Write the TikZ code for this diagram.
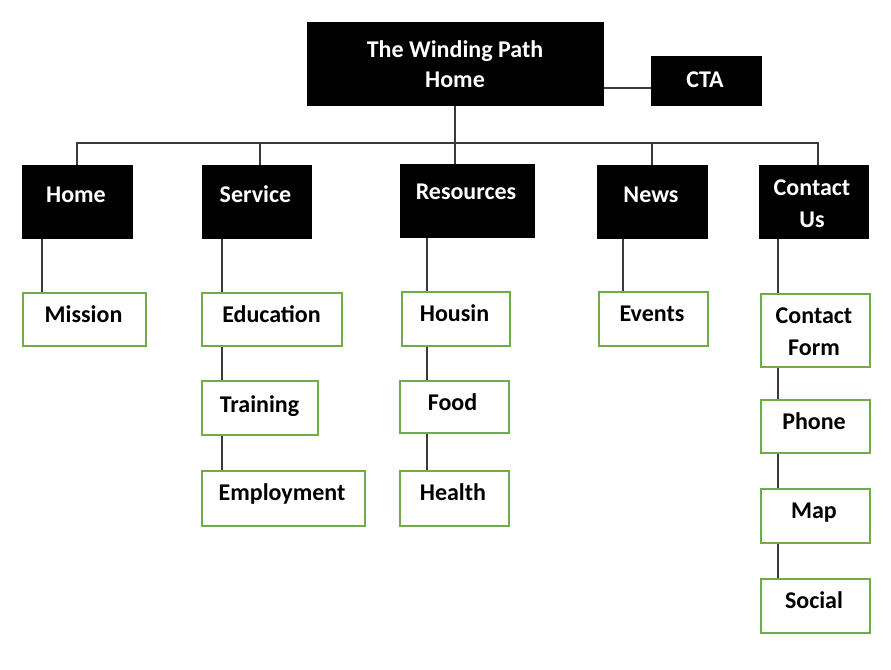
\documentclass[tikz,border=0pt]{standalone}
\usepackage{fontspec}
\setmainfont{Carlito}
\definecolor{leafgreen}{HTML}{70AD47}
\definecolor{linkgray}{HTML}{3A3A3A}
\begin{document}
\begin{tikzpicture}[x=1pt,y=-1pt,
  darkbox/.style={rectangle, draw=black, fill=black, line width=1pt, inner sep=0pt, minimum height=73pt},
  leafbox/.style={rectangle, draw=leafgreen, fill=white, line width=1.4pt, inner sep=0pt, minimum width=109pt, minimum height=54pt},
  lightlbl/.style={text=white, font=\fontsize{24}{29}\selectfont\bfseries, inner sep=0pt, anchor=base},
  darklbl/.style={text=black, font=\fontsize{24}{29}\selectfont\bfseries, inner sep=0pt, anchor=base},
  link/.style={draw=linkgray, line width=1.5pt}]
\useasboundingbox (0,0) rectangle (891,669);

% top level
\node[darkbox, minimum width=296pt, minimum height=82pt] (root) at (455,64) {};
\node[lightlbl] (root-l1) at (455,58) {The Winding Path};
\node[lightlbl] (root-l2) at (455,88) {Home};
\node[darkbox, minimum width=110pt, minimum height=48pt] (cta) at (706,81) {};
\node[lightlbl] (cta-l) at (705,88) {CTA};

% section boxes
\node[darkbox, minimum width=110pt] (home) at (77,201.5) {};
\node[lightlbl] (home-l) at (76,202) {Home};
\node[darkbox, minimum width=109pt] (service) at (256.5,201.5) {};
\node[lightlbl] (service-l) at (255.5,202) {Service};
\node[darkbox, minimum width=134pt] (resources) at (467,200.5) {};
\node[lightlbl] (resources-l) at (466,199.5) {Resources};
\node[darkbox, minimum width=110pt] (news) at (652,201.5) {};
\node[lightlbl] (news-l) at (651,202) {News};
\node[darkbox, minimum width=109pt] (contact) at (813.5,201.5) {};
\node[lightlbl] (contact-l1) at (812,195) {Contact};
\node[lightlbl] (contact-l2) at (812,227) {Us};

% page boxes
\node[leafbox, minimum width=123pt, minimum height=53pt] (mission) at (84.5,319.5) {};
\node[darklbl] (mission-l) at (83.5,322.7) {Mission};

\node[leafbox, minimum width=140pt, minimum height=53pt] (education) at (272,319.5) {};
\node[darklbl] (education-l) at (271.5,322.7) {Education};
\node[leafbox, minimum width=116pt] (training) at (260,408) {};
\node[darklbl] (training-l) at (259.5,412.3) {Training};
\node[leafbox, minimum width=163pt, minimum height=55pt] (employment) at (283.5,498.5) {};
\node[darklbl] (employment-l) at (282,500.7) {Employment};

\node[leafbox, minimum width=108pt] (housing) at (456,319) {};
\node[darklbl] (housing-l) at (454.5,321) {Housin};
\node[leafbox, minimum height=52pt] (food) at (454.5,407) {};
\node[darklbl] (food-l) at (452.5,410) {Food};
\node[leafbox, minimum height=55pt] (health) at (454.5,498.5) {};
\node[darklbl] (health-l) at (453,500) {Health};

\node[leafbox] (events) at (653.5,319) {};
\node[darklbl] (events-l) at (652,321) {Events};

\node[leafbox, minimum height=73pt] (form) at (815.5,330.5) {};
\node[darklbl] (form-l1) at (814,323.3) {Contact};
\node[darklbl] (form-l2) at (814,355.7) {Form};
\node[leafbox, minimum height=53pt] (phone) at (815.5,426.5) {};
\node[darklbl] (phone-l) at (814,429) {Phone};
\node[leafbox] (map) at (815.5,516) {};
\node[darklbl] (map-l) at (814,518) {Map};
\node[leafbox] (social) at (815.5,606) {};
\node[darklbl] (social-l) at (814,608) {Social};

% guide coordinates for connector positions
\coordinate (bus) at (0,143);
\coordinate (ctarow) at (0,88);
\coordinate (svc-x) at (260,0);
\coordinate (con-x) at (818,0);
\coordinate (home-x) at (42,0);
\coordinate (service-x) at (222,0);
\coordinate (res-x) at (427,0);
\coordinate (news-x) at (623,0);
\coordinate (contact-x) at (778,0);

% root to CTA
\draw[link] (root.east |- ctarow) -- (cta.west |- ctarow);

% root to sections
\draw[link] (root.south) -- (root.south |- resources.north);
\draw[link] (home.north) -- (home.north |- bus) -- (con-x |- bus) -- (con-x |- contact.north);
\draw[link] (svc-x |- bus) -- (svc-x |- service.north);
\draw[link] (news.north |- bus) -- (news.north);

% sections to pages
\draw[link] (home-x |- home.south) -- (home-x |- mission.north);
\draw[link] (service-x |- service.south) -- (service-x |- education.north);
\draw[link] (service-x |- education.south) -- (service-x |- training.north);
\draw[link] (service-x |- training.south) -- (service-x |- employment.north);
\draw[link] (res-x |- resources.south) -- (res-x |- housing.north);
\draw[link] (res-x |- housing.south) -- (res-x |- food.north);
\draw[link] (res-x |- food.south) -- (res-x |- health.north);
\draw[link] (news-x |- news.south) -- (news-x |- events.north);
\draw[link] (contact-x |- contact.south) -- (contact-x |- form.north);
\draw[link] (contact-x |- form.south) -- (contact-x |- phone.north);
\draw[link] (contact-x |- phone.south) -- (contact-x |- map.north);
\draw[link] (contact-x |- map.south) -- (contact-x |- social.north);
\end{tikzpicture}
\end{document}
